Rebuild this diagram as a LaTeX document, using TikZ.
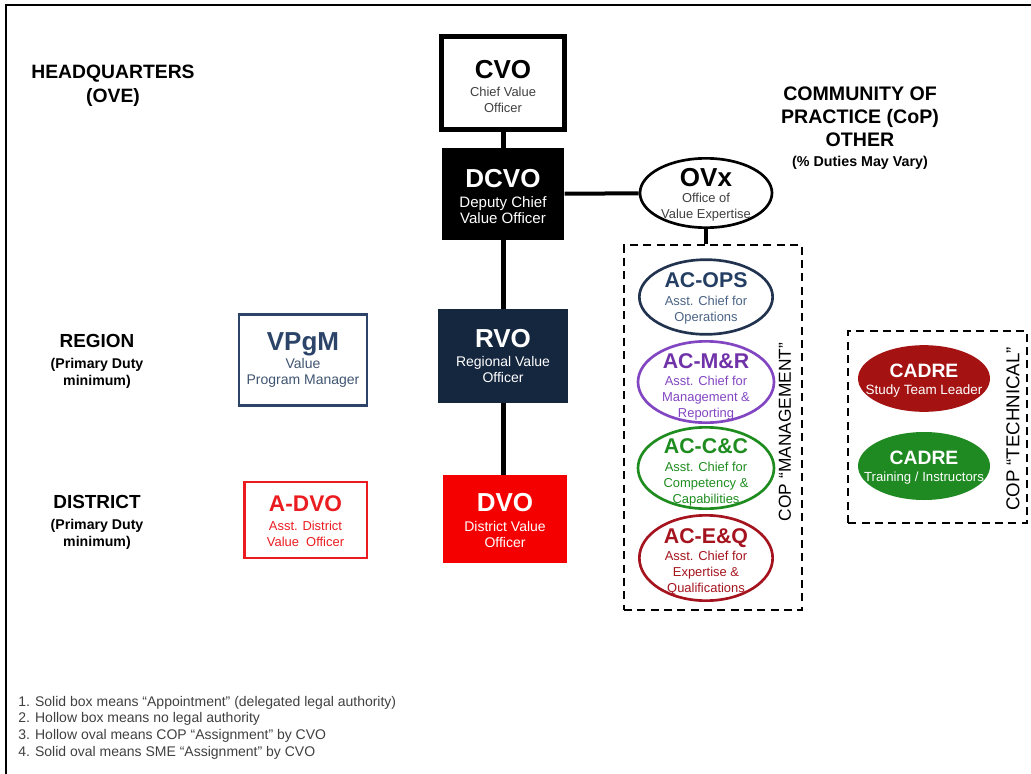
\documentclass[tikz,border=0pt]{standalone}
\usepackage{fontspec}
\setmainfont{Liberation Sans}
\usetikzlibrary{shapes.geometric}
\definecolor{navyfill}{HTML}{15263F}
\definecolor{vpnavy}{HTML}{2B4468}
\definecolor{vpsub}{HTML}{3F5470}
\definecolor{opsline}{HTML}{22334F}
\definecolor{opstitle}{HTML}{243E63}
\definecolor{opssub}{HTML}{4A6384}
\definecolor{mrpurple}{HTML}{8246C2}
\definecolor{mrtitle}{HTML}{7032A8}
\definecolor{ccgreen}{HTML}{1F8C1F}
\definecolor{eqred}{HTML}{A5141E}
\definecolor{cadrered}{HTML}{A51212}
\definecolor{cadregreen}{HTML}{1F8A22}
\definecolor{dvored}{HTML}{F50000}
\definecolor{advored}{HTML}{EA1C20}
\definecolor{notegray}{HTML}{404040}
\definecolor{subgray}{HTML}{404040}
\tikzset{
  orgbox/.style={rectangle, inner sep=0pt},
  orgoval/.style={ellipse, inner sep=0pt, line width=2pt},
  txt/.style={align=center, inner sep=0pt},
  conn/.style={line width=3.75pt},
  dashbox/.style={rectangle, draw, dashed, dash pattern=on 6pt off 4pt, line width=1.5pt, inner sep=0pt},
  heading/.style={align=center},
}
\newcommand{\ttlA}{\fontsize{19.5}{22}\selectfont\bfseries}
\newcommand{\ttlB}{\fontsize{16}{18}\selectfont\bfseries}
\newcommand{\subA}{\fontsize{10.5}{12.8}\selectfont}
\newcommand{\subB}{\fontsize{9.7}{11.7}\selectfont}
\begin{document}
\begin{tikzpicture}[x=0.75pt,y=-0.75pt]
\useasboundingbox (0,0) rectangle (1031,774);
\draw[line width=2.2pt] (6,776) -- (6,5) -- (1033,5);

% headings
\node[heading, font=\fontsize{14.5}{18}\selectfont\bfseries] (hq) at (113,86) {HEADQUARTERS\\(OVE)};
\node[heading, font=\fontsize{10.6}{12.75}\selectfont\bfseries] (reg) at (97,361) {{\fontsize{14.2}{17}\selectfont REGION}\\[3pt](Primary Duty\\minimum)};
\node[heading, font=\fontsize{10.6}{12.75}\selectfont\bfseries] (dis) at (97,522) {{\fontsize{14.2}{17}\selectfont DISTRICT}\\[3pt](Primary Duty\\minimum)};
\node[heading, font=\fontsize{14.7}{17.3}\selectfont\bfseries] (cop) at (860,128) {COMMUNITY OF\\PRACTICE (CoP)\\OTHER\\[-2pt]{\fontsize{10.7}{13}\selectfont (\% Duties May Vary)}};

% boxes
\node[orgbox, draw=black, fill=white, line width=3.75pt, minimum width=92pt, minimum height=70pt] (cvo) at (503,83) {};
\node[txt] (cvot) at ([yshift=-2.6pt]cvo.center) {\ttlA CVO\\[1pt]\color{subgray}\subB Chief Value\\\color{subgray}\subB Officer};

\node[orgbox, fill=black, minimum width=92pt, minimum height=69pt] (dcvo) at (503,194) {};
\node[txt, text=white] (dcvot) at ([yshift=-1.5pt]dcvo.center) {\ttlA DCVO\\[3pt]\fontsize{11.3}{12.8}\selectfont Deputy Chief\\\fontsize{11.3}{12.8}\selectfont Value Officer};

\node[orgbox, fill=navyfill, minimum width=97.5pt, minimum height=70.5pt] (rvo) at (503,356) {};
\node[txt, text=white] (rvot) at ([yshift=0pt]rvo.center) {\ttlA RVO\\[2.5pt]\subA Regional Value\\\subA Officer};

\node[orgbox, fill=dvored, minimum width=93pt, minimum height=66pt] (dvo) at (505,519) {};
\node[txt, text=white] (dvot) at ([yshift=-1.2pt]dvo.center) {\ttlA DVO\\[3pt]\subA District Value\\\subA Officer};

\node[orgbox, draw=vpnavy, line width=2pt, minimum width=96pt, minimum height=68pt] (vpgm) at (303,360) {};
\node[txt] (vpgmt) at ([yshift=0pt]vpgm.center) {\color{vpnavy}\ttlA VPgM\\[1.5pt]\color{vpsub}\subA Value\\\color{vpsub}\subA Program Manager};

\node[orgbox, draw=advored, line width=2pt, minimum width=92pt, minimum height=57pt] (advo) at (305.5,520) {};
\node[txt, text=advored] (advot) at ([yshift=-1pt]advo.center) {\fontsize{17}{19}\selectfont\bfseries A-DVO\\[2pt]\subB Asst. District\\\subB Value\ \ Officer};

% OVx
\node[orgoval, draw=black, fill=white, minimum width=99pt, minimum height=52pt] (ovx) at (706,193) {};
\node[txt] (ovxt) at ([yshift=-1.5pt]ovx.center) {\ttlA OVx\\[0pt]\color{subgray}\subB Office of\\\color{subgray}\subB Value Expertise};

% management box
\node[dashbox, minimum width=133.5pt, minimum height=273.5pt] (mgmt) at (713,427.5) {};
\node[orgoval, draw=opsline, minimum width=100pt, minimum height=56pt] (ops) at (706,297) {};
\node[txt] (opst) at ([yshift=-1pt]ops.center) {\color{opstitle}\ttlB AC-OPS\\[1pt]\color{opssub}\subB Asst. Chief for\\\color{opssub}\subB Operations};

\node[orgoval, draw=mrpurple, minimum width=102pt, minimum height=61pt] (mr) at (706,382) {};
\node[txt, text=mrpurple] (mrt) at ([yshift=-3.5pt]mr.center) {\color{mrtitle}\ttlB AC-M\&R\\[1pt]\subB Asst. Chief for\\\subB Management \&\\\subB Reporting};

\node[orgoval, draw=ccgreen, minimum width=102pt, minimum height=61pt] (cc) at (706,468) {};
\node[txt, text=ccgreen] (cct) at ([yshift=-3.2pt]cc.center) {\ttlB AC-C\&C\\[1pt]\subB Asst. Chief for\\\subB Competency \&\\\subB Capabilities};

\node[orgoval, draw=eqred, minimum width=100pt, minimum height=64pt] (eq) at (706,558) {};
\node[txt, text=eqred] (eqt) at ([yshift=-3pt]eq.center) {\ttlB AC-E\&Q\\[1pt]\subB Asst. Chief for\\\subB Expertise \&\\\subB Qualifications};

\node[rotate=90, font=\fontsize{13}{15}\selectfont] (mgmtlbl) at (785,432) {COP “MANAGEMENT”};

% technical box
\node[dashbox, minimum width=134pt, minimum height=144pt] (tech) at (937.5,427) {};
\node[orgoval, draw=none, fill=cadrered, minimum width=99pt, minimum height=50pt] (cadre1) at (924,378.5) {};
\node[txt, text=white] (cadre1t) at ([yshift=-1.5pt]cadre1.center) {\fontsize{14.5}{17}\selectfont\bfseries CADRE\\[1pt]\fontsize{10.1}{12}\selectfont Study Team Leader};
\node[orgoval, draw=none, fill=cadregreen, minimum width=99pt, minimum height=51pt] (cadre2) at (924,466) {};
\node[txt, text=white] (cadre2t) at ([yshift=-1pt]cadre2.center) {\fontsize{14.5}{17}\selectfont\bfseries CADRE\\[1pt]\fontsize{9.9}{12}\selectfont Training / Instructors};

\node[rotate=90, font=\fontsize{14}{16}\selectfont] (techlbl) at (1013,429) {COP “TECHNICAL”};

% connectors
\draw[conn] (cvo) -- (dcvo);
\draw[line width=3pt] (dcvo) -- (ovx);
\draw[conn] (dcvo) -- (rvo);
\draw[conn] (rvo.south) -- (rvo.south |- dvo.north);
\draw[line width=3pt] (ovx.south) -- (ovx.south |- mgmt.north);

% notes
\begin{scope}[every node/.style={anchor=west, text=notegray, font=\fontsize{10.5}{12}\selectfont, inner sep=0pt}]
\node (n1) at (18,702.5) {1. Solid box means “Appointment” (delegated legal authority)};
\node (n2) at (18,719) {2. Hollow box means no legal authority};
\node (n3) at (18,735.5) {3. Hollow oval means COP “Assignment” by CVO};
\node (n4) at (18,752.5) {4. Solid oval means SME “Assignment” by CVO};
\end{scope}
\end{tikzpicture}
\end{document}
